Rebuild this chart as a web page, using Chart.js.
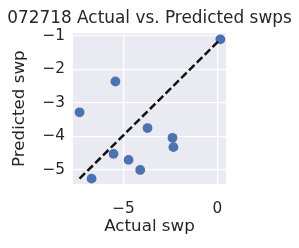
<!DOCTYPE html>
<html>
<head>
<meta charset="utf-8">
<script src="https://cdn.jsdelivr.net/npm/chart.js@4/dist/chart.umd.min.js"></script>
<style>
  body { margin: 0; background: #fff; }
  canvas { display: block; }
</style>
</head>
<body>
<canvas id="chart" width="299" height="248"></canvas>
<script>
// values
var actualSwp = [0.16, -5.43, -7.34, -3.72, -2.39, -2.34, -5.53, -4.73, -4.11, -6.70];
var predictedSwp = [-1.10, -2.36, -3.28, -3.75, -4.04, -4.32, -4.52, -4.70, -5.00, -5.26];
var xTicks = [-5, 0];
var yTicks = [-5, -4, -3, -2, -1];

var ink = '#262626';
var font = 'DejaVu Sans';

// dashed reference line: from (min actual, min predicted) to (max actual, max predicted)
var linePts = [
  { x: Math.min.apply(null, actualSwp), y: Math.min.apply(null, predictedSwp) },
  { x: Math.max.apply(null, actualSwp), y: Math.max.apply(null, predictedSwp) }
];
var pts = actualSwp.map(function (a, i) { return { x: a, y: predictedSwp[i] }; });

function fmt(v) {
  return v < 0 ? '\u2212' + Math.abs(v) : String(v);
}

const bgPlugin = {
  id: 'plotbg',
  beforeDraw(chart) {
    const { ctx, chartArea } = chart;
    ctx.save();
    ctx.fillStyle = '#eaeaf2';
    ctx.fillRect(chartArea.left, chartArea.top, chartArea.right - chartArea.left, chartArea.bottom - chartArea.top);
    ctx.restore();
  }
};

const config = {
  type: 'scatter',
  data: {
    datasets: [
      {
        type: 'line',
        data: linePts,
        borderColor: '#111111',
        borderWidth: 2.5,
        borderDash: [7.7, 3.3],
        pointRadius: 0,
        fill: false,
        order: 0
      },
      {
        data: pts,
        backgroundColor: '#4c72b0',
        borderWidth: 0,
        pointRadius: 4.9,
        order: 1
      }
    ]
  },
  options: {
    responsive: false,
    animation: false,
    layout: { padding: 0 },
    plugins: {
      legend: { display: false },
      tooltip: { enabled: false },
      title: {
        display: true,
        text: '072718 Actual vs. Predicted swps',
        color: ink,
        font: { family: font, size: 16.9, weight: 'normal' },
        padding: { top: 8, bottom: 5 }
      }
    },
    scales: {
      x: {
        type: 'linear',
        min: -7.69,
        max: 0.46,
        afterBuildTicks: function (s) { s.ticks = xTicks.map(function (v) { return { value: v }; }); },
        afterFit: function (s) { s.height = 64; },
        grid: { color: '#ffffff', lineWidth: 1.3, drawTicks: false },
        border: { display: false },
        ticks: { color: ink, font: { family: font, size: 15.3 }, padding: 16, callback: fmt },
        title: {
          display: true,
          text: 'Actual swp',
          color: ink,
          font: { family: font, size: 16.7 },
          padding: { top: 0, bottom: 11 }
        }
      },
      y: {
        type: 'linear',
        min: -5.42,
        max: -0.92,
        afterBuildTicks: function (s) { s.ticks = yTicks.map(function (v) { return { value: v }; }); },
        afterFit: function (s) { s.width = 73; },
        grid: { color: '#ffffff', lineWidth: 1.3, drawTicks: false },
        border: { display: false },
        ticks: { color: ink, font: { family: font, size: 15.3 }, padding: 8, callback: fmt },
        title: {
          display: true,
          text: 'Predicted swp',
          color: ink,
          font: { family: font, size: 16.7 },
          padding: { top: 10, bottom: 0 }
        }
      },
      // empty right-hand axis that only reserves the white margin
      yRight: {
        type: 'linear',
        position: 'right',
        min: -5.42,
        max: -0.92,
        afterFit: function (s) { s.width = 73; },
        grid: { display: false },
        border: { display: false },
        ticks: { display: false }
      }
    }
  },
  plugins: [bgPlugin]
};

const ctx = document.getElementById('chart');
window.myChart = new Chart(ctx, config);
</script>
</body>
</html>
